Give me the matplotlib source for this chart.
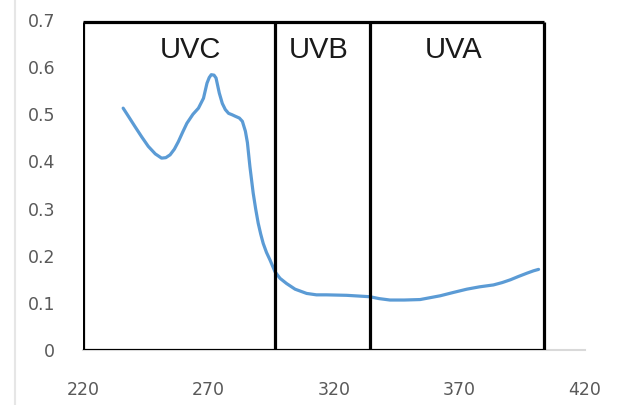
import matplotlib
matplotlib.use("Agg")
from matplotlib import pyplot as plt
from matplotlib.lines import Line2D

# absorbance spectrum
wavelength = [236.0, 238.3, 240.7, 243.4, 246.0, 248.8, 251.3, 253.0, 254.7, 256.4,
              258.0, 259.7, 261.4, 263.8, 266.0, 268.0, 269.4, 270.3, 271.1, 272.2,
              273.0, 274.3, 275.5, 276.7, 278.0, 279.4, 280.6, 282.3, 283.5, 284.7,
              285.5, 286.5, 287.8, 288.8, 289.8, 290.8, 291.8, 293.1, 294.5, 296.5,
              298.5, 301.1, 304.5, 309.1, 313.0, 317.0, 325.0, 334.3, 338.0, 342.3,
              348.0, 354.3, 362.3, 367.5, 372.9, 378.0, 383.5, 387.0, 390.3, 393.5,
              396.9, 399.5, 401.5]
absorbance = [0.513, 0.494, 0.474, 0.452, 0.432, 0.416, 0.407, 0.408, 0.414, 0.426,
              0.442, 0.462, 0.481, 0.500, 0.513, 0.534, 0.566, 0.578, 0.584, 0.583,
              0.577, 0.545, 0.523, 0.510, 0.502, 0.499, 0.496, 0.492, 0.485, 0.464,
              0.440, 0.389, 0.333, 0.299, 0.269, 0.246, 0.226, 0.207, 0.191, 0.166,
              0.152, 0.141, 0.129, 0.120, 0.117, 0.117, 0.116, 0.113, 0.109, 0.106,
              0.106, 0.107, 0.115, 0.122, 0.129, 0.134, 0.138, 0.143, 0.149, 0.156,
              0.163, 0.168, 0.171]

band_names = ["UVC", "UVB", "UVA"]
band_edges = [220, 296.5, 334.5, 403.5]
band_label_x = [263, 314, 367.5]
box_top = 0.695

xticks = [220, 270, 320, 370, 420]
yticks = [0, 0.1, 0.2, 0.3, 0.4, 0.5, 0.6, 0.7]
ytick_labels = ["0", "0.1", "0.2", "0.3", "0.4", "0.5", "0.6", "0.7"]

fig = plt.figure(figsize=(6.25, 4.05), dpi=100)
ax = fig.add_axes([83 / 625, 55 / 405, 502 / 625, 330 / 405])

ax.plot(wavelength, absorbance, color="#5B9BD5", linewidth=2.3,
        solid_capstyle="round", solid_joinstyle="round", zorder=3)

# band boxes
ax.hlines([0, box_top], band_edges[0], band_edges[-1], color="black", linewidth=2.3, zorder=4)
ax.vlines(band_edges, 0, box_top, color="black", linewidth=2.3, zorder=4)
for name, x in zip(band_names, band_label_x):
    ax.text(x, 0.637, name, ha="center", va="center", fontsize=21,
            family="Liberation Sans", color="#1a1a1a")

ax.set_xlim(220, 420)
ax.set_ylim(0, 0.7)
ax.set_xticks(xticks)
ax.set_yticks(yticks)
ax.set_yticklabels(ytick_labels)
ax.tick_params(length=0, labelsize=12.5, labelcolor="#595959")
ax.tick_params(axis="x", pad=22)
ax.tick_params(axis="y", pad=20)
for s in ["top", "right", "left"]:
    ax.spines[s].set_visible(False)
ax.spines["bottom"].set_color("#d9d9d9")
ax.spines["bottom"].set_linewidth(1.5)
ax.spines["bottom"].set_zorder(1)

fig.add_artist(Line2D([15 / 625, 15 / 625], [0, 1], color="#e6e6e6", linewidth=1.5))

fig.savefig("out.png", dpi=100)
